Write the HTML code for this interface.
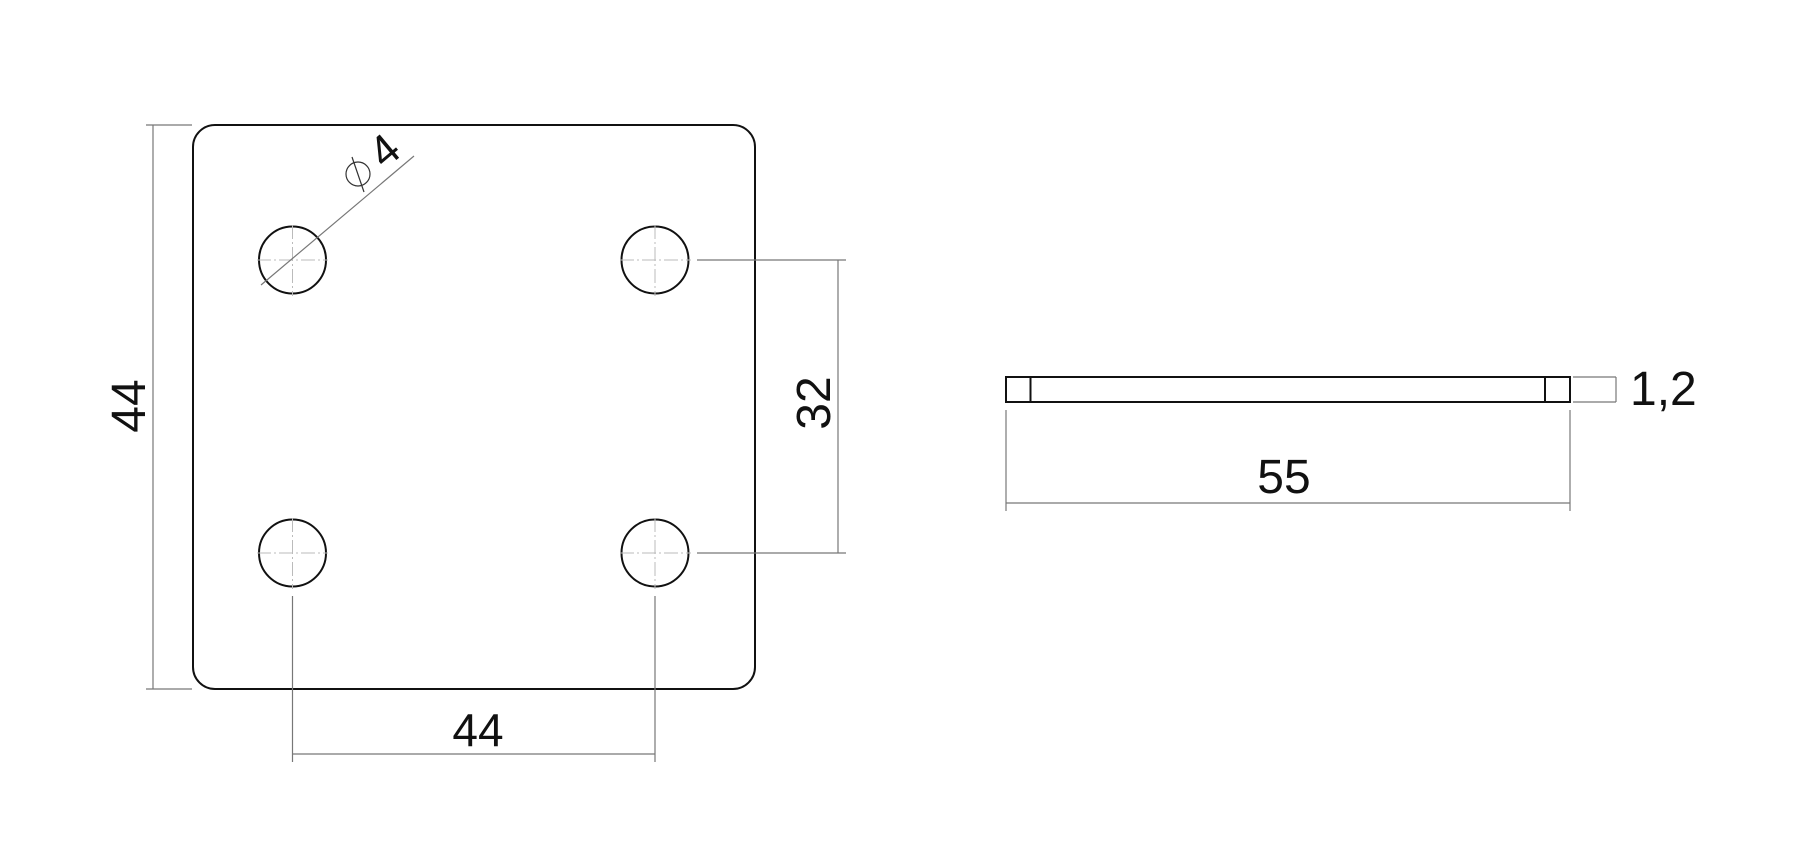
<!DOCTYPE html>
<html><head><meta charset="utf-8"><style>
html,body{margin:0;padding:0;background:#fff;}
svg{display:block;}
text{font-family:"Liberation Sans",sans-serif;fill:#111;}
</style></head><body>
<svg width="1800" height="860" viewBox="0 0 1800 860" xmlns="http://www.w3.org/2000/svg">
<g fill="none" stroke="#111" stroke-width="2">
<rect x="193" y="125" width="562" height="564" rx="22" ry="22"/>
<circle cx="292.5" cy="260" r="33.5"/>
<circle cx="655" cy="260" r="33.5"/>
<circle cx="292.5" cy="553" r="33.5"/>
<circle cx="655" cy="553" r="33.5"/>
<rect x="1006" y="377" width="564" height="25"/>
<line x1="1030.5" y1="377" x2="1030.5" y2="402"/>
<line x1="1545" y1="377" x2="1545" y2="402"/>
</g>
<g stroke="#bbb" stroke-width="1" stroke-dasharray="14,3,2,3">
<line x1="257" y1="260" x2="328" y2="260"/><line x1="292.5" y1="225" x2="292.5" y2="296"/>
<line x1="620" y1="260" x2="691" y2="260"/><line x1="655" y1="225" x2="655" y2="296"/>
<line x1="257" y1="553" x2="328" y2="553"/><line x1="292.5" y1="518" x2="292.5" y2="589"/>
<line x1="620" y1="553" x2="691" y2="553"/><line x1="655" y1="518" x2="655" y2="589"/>
</g>
<g stroke="#777" stroke-width="1.2" fill="none">
<line x1="146" y1="125" x2="192" y2="125"/><line x1="146" y1="689" x2="192" y2="689"/>
<line x1="153" y1="125" x2="153" y2="689"/>
<line x1="292.5" y1="596" x2="292.5" y2="762"/><line x1="655" y1="596" x2="655" y2="762"/>
<line x1="292.5" y1="754" x2="655" y2="754"/>
<line x1="697" y1="260" x2="846" y2="260"/><line x1="697" y1="553" x2="846" y2="553"/>
<line x1="838" y1="260" x2="838" y2="553"/>
<line x1="261" y1="285" x2="414" y2="156"/>
<line x1="1573" y1="377" x2="1616" y2="377"/><line x1="1573" y1="402" x2="1616" y2="402"/>
<line x1="1616" y1="377" x2="1616" y2="402"/>
<line x1="1006" y1="410" x2="1006" y2="511"/><line x1="1570" y1="410" x2="1570" y2="511"/>
<line x1="1006" y1="503" x2="1570" y2="503"/>
</g>
<g stroke="#333" stroke-width="1.2" fill="none">
<circle cx="358" cy="174" r="12"/>
<line x1="352" y1="157" x2="364" y2="192"/>
</g>
<text x="0" y="0" font-size="48" text-anchor="middle" transform="translate(145,406) rotate(-90)">44</text>
<text x="478" y="746" font-size="46" text-anchor="middle">44</text>
<text x="0" y="0" font-size="48" text-anchor="middle" transform="translate(830,403) rotate(-90)">32</text>
<text x="0" y="0" font-size="44" text-anchor="middle" transform="translate(394,162) rotate(-40)">4</text>
<text x="1284" y="493" font-size="48" text-anchor="middle">55</text>
<text x="1630" y="405" font-size="48">1,2</text>
</svg>
</body></html>
